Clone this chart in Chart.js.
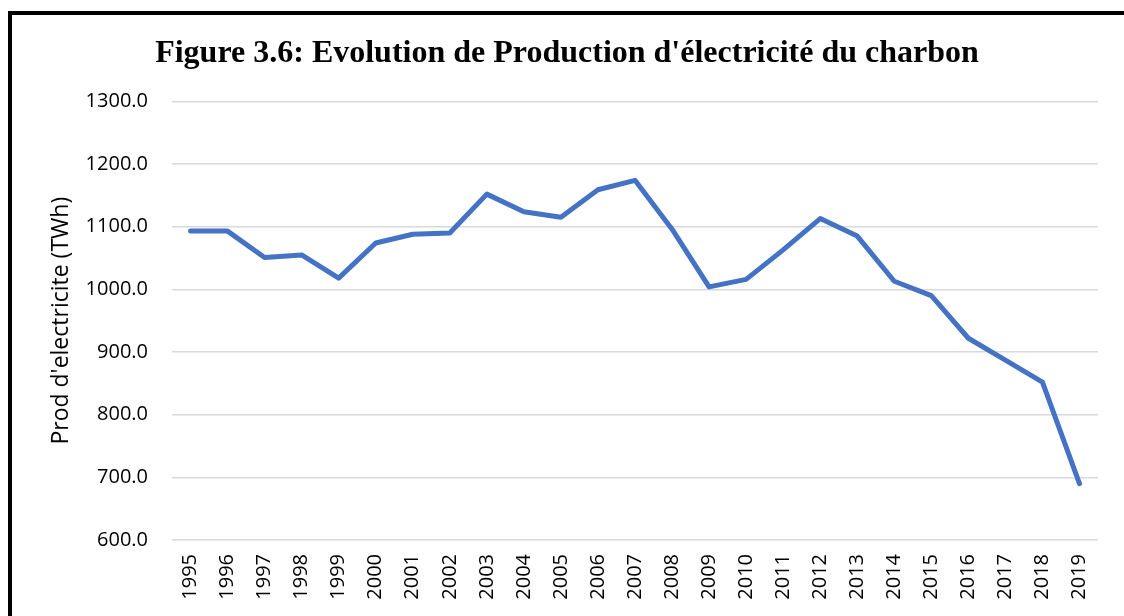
<!DOCTYPE html>
<html>
<head>
<meta charset="utf-8">
<script src="https://cdn.jsdelivr.net/npm/chart.js@4"></script>
<style>
  html, body { margin: 0; padding: 0; background: #ffffff; overflow: hidden; }
  #frame { position: absolute; left: 8px; top: 11px; width: 1300px; height: 800px;
           border-left: 4px solid #000; border-top: 4px solid #000; box-sizing: border-box; }
  #wrap { position: absolute; left: 0; top: 0; width: 1124px; height: 616px; }
</style>
</head>
<body>
<div id="frame"></div>
<div id="wrap"><canvas id="c" width="1124" height="616"></canvas></div>
<script>
const titleText = "Figure 3.6: Evolution de Production d'électricité du charbon";
const yAxisTitle = "Prod d'electricite (TWh)";
const years = ["1995","1996","1997","1998","1999","2000","2001","2002","2003","2004","2005","2006","2007","2008","2009","2010","2011","2012","2013","2014","2015","2016","2017","2018","2019"];
const production = [1093, 1093, 1051, 1055, 1018, 1074, 1088, 1090, 1152, 1124, 1115, 1159, 1174, 1096, 1004, 1016, 1063, 1113, 1085, 1013, 990, 922, 887, 852, 690];
const yMin = 600, yMax = 1300, yStep = 100;

new Chart(document.getElementById('c'), {
  type: 'line',
  data: {
    labels: years,
    datasets: [{
      data: production,
      borderColor: '#4472C4',
      borderWidth: 5,
      pointRadius: 0,
      pointHoverRadius: 0,
      tension: 0,
      borderJoinStyle: 'round',
      borderCapStyle: 'round',
      fill: false
    }]
  },
  options: {
    responsive: false,
    animation: false,
    events: [],
    layout: { padding: { left: 36, right: 26, top: 20, bottom: 0 } },
    plugins: {
      legend: { display: false },
      tooltip: { enabled: false },
      title: {
        display: true,
        text: titleText,
        color: '#000',
        font: { family: "'Liberation Serif', 'Times New Roman', serif", size: 32, weight: 'bold', lineHeight: 1.2 },
        padding: { top: 15, bottom: 28 }
      }
    },
    scales: {
      x: {
        offset: true,
        grid: { display: false, drawTicks: false },
        border: { display: false },
        ticks: {
          color: '#000',
          autoSkip: false,
          maxRotation: 90,
          minRotation: 90,
          padding: 14,
          font: { family: "'Open Sans', sans-serif", size: 20 }
        },
        afterFit: (s) => { s.height = 76; }
      },
      y: {
        min: yMin,
        max: yMax,
        grid: { color: '#d9d9d9', lineWidth: 1.5, drawTicks: false },
        border: { display: false },
        ticks: {
          stepSize: yStep,
          color: '#000',
          padding: 24,
          font: { family: "'Open Sans', sans-serif", size: 20 },
          callback: (v) => Number(v).toFixed(1)
        },
        title: {
          display: true,
          text: yAxisTitle,
          color: '#000',
          font: { family: "'Open Sans', sans-serif", size: 23 },
          padding: { top: 12, bottom: 0 }
        },
        afterFit: (s) => { s.width = 136; }
      }
    }
  }
});
</script>
</body>
</html>
